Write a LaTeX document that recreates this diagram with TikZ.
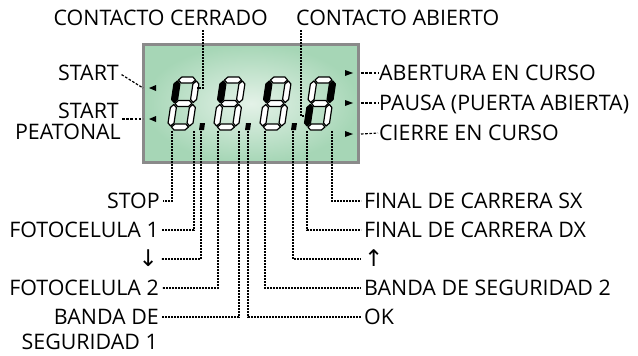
\documentclass[tikz,border=0pt]{standalone}
\usepackage{fontspec}
\setmainfont{Open Sans}
\newfontfamily\arrowfont{DejaVu Sans}
\newcommand\sevenseg[8]{%
  \begin{scope}[shift={(#1,130)}, y=1pt, xslant=0.15]
    \filldraw[#2] (4,50)--(7,53)--(18,53)--(21,50)--(18,47)--(7,47)--cycle;
    \filldraw[#3] (22,27.5)--(25,30.5)--(25,46)--(22,49)--(19,46)--(19,30.5)--cycle;
    \filldraw[#4] (22,4)--(25,7)--(25,22.5)--(22,25.5)--(19,22.5)--(19,7)--cycle;
    \filldraw[#5] (4,3)--(7,6)--(18,6)--(21,3)--(18,0)--(7,0)--cycle;
    \filldraw[#6] (3,4)--(6,7)--(6,22.5)--(3,25.5)--(0,22.5)--(0,7)--cycle;
    \filldraw[#7] (3,27.5)--(6,30.5)--(6,46)--(3,49)--(0,46)--(0,30.5)--cycle;
    \filldraw[#8] (4,26.5)--(7,29.5)--(18,29.5)--(21,26.5)--(18,23.5)--(7,23.5)--cycle;
  \end{scope}}
\begin{document}
\begin{tikzpicture}[x=1pt,y=-1pt,
  lbl/.style={inner sep=0pt, font=\fontsize{21.4}{24}\selectfont, text height=15.2pt, text depth=0pt},
  arr/.style={inner sep=0pt, font=\arrowfont\fontsize{23}{26}\selectfont, text height=15.2pt, text depth=0pt},
  dotline/.style={line width=1.6pt, dash pattern=on 1.6pt off 1.4pt},
  dashline/.style={line width=1.2pt, dash pattern=on 2.6pt off 1.6pt},
  seg/.style={fill=white, draw=black, line width=1.2pt, line join=round},
  segon/.style={fill=black, draw=black, line width=1.2pt, line join=round},
  tri/.style={fill=black}]
\useasboundingbox (0,0) rectangle (638,356);
\definecolor{lcdin}{RGB}{228,242,232}
\definecolor{lcdout}{RGB}{166,214,182}
\definecolor{frame}{RGB}{138,138,138}
% display
\shadedraw[inner color=lcdin, outer color=lcdout, draw=frame, line width=2.5pt] (143.5,44.5) rectangle (358.5,162.5);
% digits
\sevenseg{167}{seg}{seg}{seg}{seg}{seg}{segon}{seg}
\sevenseg{213}{seg}{seg}{seg}{seg}{seg}{segon}{seg}
\sevenseg{259}{seg}{seg}{seg}{seg}{seg}{segon}{seg}
\sevenseg{303.5}{seg}{segon}{seg}{seg}{segon}{seg}{seg}
% decimal points
\fill (199,130)--(204,130)--(205,123)--(200,123)--cycle;
\fill (245,130)--(250,130)--(251,123)--(246,123)--cycle;
\fill (291,130)--(296,130)--(297,123)--(292,123)--cycle;
% indicator triangles
\fill[tri] (149,88)--++(7,-3)--++(0,6)--cycle;
\fill[tri] (149,119)--++(7,-3)--++(0,6)--cycle;
\fill[tri] (353,73)--++(-8,-3)--++(0,6)--cycle;
\fill[tri] (353,103)--++(-8,-3)--++(0,6)--cycle;
\fill[tri] (353,134)--++(-8,-3)--++(0,6)--cycle;
% labels top
\node[lbl, anchor=east] (ccer) at (268,18) {CONTACTO CERRADO};
\node[lbl, anchor=west] (cabi) at (296,18) {CONTACTO ABIERTO};
% labels left
\node[lbl, anchor=east] (start) at (119,73) {START};
\node[lbl, anchor=east] (startp) at (119,111) {START};
\node[lbl, anchor=east] (peat) at (121,132) {PEATONAL};
\node[lbl, anchor=east] (stop) at (160,201) {STOP};
\node[lbl, anchor=east] (foto1) at (159,230) {FOTOCELULA 1};
\node[arr, anchor=east] (down) at (158,259) {↓};
\node[lbl, anchor=east] (foto2) at (159,288) {FOTOCELULA 2};
\node[lbl, anchor=east] (bs1) at (159,317) {BANDA DE};
\node[lbl, anchor=east] (bs1b) at (158,342) {SEGURIDAD 1};
% labels right
\node[lbl, anchor=west] (aber) at (379,73) {ABERTURA EN CURSO};
\node[lbl, anchor=west] (paus) at (379,103) {PAUSA (PUERTA ABIERTA)};
\node[lbl, anchor=west] (cier) at (379,133) {CIERRE EN CURSO};
\node[lbl, anchor=west] (fsx) at (364,201) {FINAL DE CARRERA SX};
\node[lbl, anchor=west] (fdx) at (364,230) {FINAL DE CARRERA DX};
\node[arr, anchor=west] (up) at (364,259) {↑};
\node[lbl, anchor=west] (bs2) at (364,288) {BANDA DE SEGURIDAD 2};
\node[lbl, anchor=west] (ok) at (364,317) {OK};
% connector coordinates
\coordinate (cctop) at (203,30);
\coordinate (catop) at (301,30);
\coordinate (d1b) at (197,88);
\coordinate (d4e) at (305,116);
\coordinate (lt1) at (143,88);
\coordinate (lt2) at (143,119);
\coordinate (rt1) at (361,73);
\coordinate (rt2) at (361,103);
\coordinate (rt3) at (361,134);
\coordinate (c1) at (172,131);
\coordinate (c2) at (194,131);
\coordinate (c3) at (201,131);
\coordinate (c4) at (218,131);
\coordinate (c5) at (239,131);
\coordinate (c6) at (248,131);
\coordinate (c7) at (265,131);
\coordinate (c8) at (293,131);
\coordinate (c9) at (307,131);
\coordinate (c10) at (332,131);
% top connectors
\draw[dotline] (cctop) |- (d1b);
\draw[dotline] (catop) |- (d4e);
% left/right dashed connectors
\draw[dashline, shorten <=3pt] (start.east) -- (lt1);
\draw[dashline] ([xshift=3pt]startp.east |- lt2) -- (lt2);
\draw[dashline] (rt1) -- ([xshift=-1pt]aber.west);
\draw[dashline] (rt2) -- ([xshift=-1pt]paus.west);
\draw[dashline] (rt3) -- ([xshift=-1pt]cier.west);
% bottom connectors
\draw[dotline] (c1) |- ([xshift=3pt]stop.east);
\draw[dotline] (c2) |- ([xshift=3pt]foto1.east);
\draw[dotline] (c3) |- ([xshift=3pt]down.east);
\draw[dotline] (c4) |- ([xshift=3pt]foto2.east);
\draw[dotline] (c5) |- ([xshift=3pt]bs1.east);
\draw[dotline] (c6) |- ([xshift=-3pt]ok.west);
\draw[dotline] (c7) |- ([xshift=-3pt]bs2.west);
\draw[dotline] (c8) |- ([xshift=-3pt]up.west);
\draw[dotline] (c9) |- ([xshift=-3pt]fdx.west);
\draw[dotline] (c10) |- ([xshift=-3pt]fsx.west);
\end{tikzpicture}
\end{document}
